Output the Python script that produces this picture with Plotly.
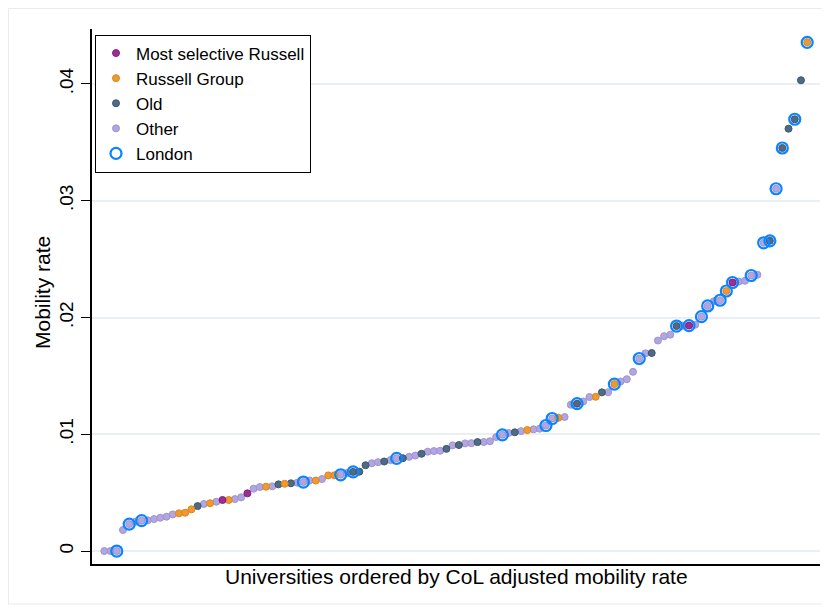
import plotly.graph_objects as go

# CoL adjusted mobility rate, universities in rank order
mobility = [
    0.00000, 0.00000, 0.00000, 0.00180, 0.00231, 0.00251, 0.00260, 0.00263, 0.00274, 0.00285,
    0.00294, 0.00314, 0.00323, 0.00328, 0.00357, 0.00385, 0.00403, 0.00409, 0.00422, 0.00437,
    0.00437, 0.00445, 0.00460, 0.00494, 0.00534, 0.00548, 0.00551, 0.00554, 0.00571, 0.00576,
    0.00580, 0.00585, 0.00591, 0.00604, 0.00604, 0.00617, 0.00648, 0.00649, 0.00653, 0.00668,
    0.00678, 0.00680, 0.00735, 0.00752, 0.00761, 0.00767, 0.00779, 0.00794, 0.00795, 0.00807,
    0.00818, 0.00833, 0.00851, 0.00856, 0.00859, 0.00875, 0.00905, 0.00908, 0.00922, 0.00924,
    0.00933, 0.00934, 0.00940, 0.00976, 0.00995, 0.01011, 0.01017, 0.01027, 0.01036, 0.01042,
    0.01048, 0.01075, 0.01135, 0.01141, 0.01148, 0.01253, 0.01262, 0.01281, 0.01319, 0.01321,
    0.01359, 0.01360, 0.01430, 0.01452, 0.01472, 0.01535, 0.01649, 0.01693, 0.01696, 0.01803,
    0.01840, 0.01853, 0.01927, 0.01930, 0.01931, 0.01938, 0.02007, 0.02099, 0.02139, 0.02148,
    0.02227, 0.02300, 0.02308, 0.02315, 0.02360, 0.02366, 0.02640, 0.02657, 0.03103, 0.03452,
    0.03617, 0.03698, 0.04032, 0.04357,
]

# M = Most selective Russell, R = Russell Group, O = Old, P = Other
group = [
    "P", "P", "P", "P", "P", "P", "P", "P", "P", "P",
    "P", "P", "R", "R", "R", "O", "P", "R", "P", "M",
    "R", "P", "P", "M", "P", "P", "R", "P", "O", "R",
    "O", "P", "P", "P", "R", "P", "R", "R", "P", "P",
    "O", "O", "O", "P", "P", "O", "P", "P", "O", "P",
    "P", "O", "P", "P", "P", "O", "P", "O", "P", "P",
    "O", "P", "P", "P", "P", "P", "O", "P", "R", "P",
    "P", "P", "P", "R", "P", "P", "O", "P", "P", "R",
    "O", "P", "R", "P", "P", "P", "P", "P", "O", "P",
    "P", "P", "O", "P", "M", "P", "P", "P", "P", "P",
    "R", "M", "P", "P", "P", "P", "P", "O", "P", "O",
    "O", "O", "O", "R",
]

# 1 = London university
london = [
    0, 0, 1, 0, 1, 0, 1, 0, 0, 0,
    0, 0, 0, 0, 0, 0, 0, 0, 0, 0,
    0, 0, 0, 0, 0, 0, 0, 0, 0, 0,
    0, 0, 1, 0, 0, 0, 0, 0, 1, 0,
    1, 0, 0, 0, 0, 0, 0, 1, 0, 0,
    0, 0, 0, 0, 0, 0, 0, 0, 0, 0,
    0, 0, 0, 0, 1, 0, 0, 0, 0, 0,
    0, 1, 1, 0, 0, 0, 1, 0, 0, 0,
    0, 0, 1, 0, 0, 0, 1, 0, 0, 0,
    0, 0, 1, 0, 1, 0, 1, 1, 0, 1,
    1, 1, 0, 0, 1, 0, 1, 1, 1, 1,
    0, 1, 0, 1,
]

rank = list(range(1, len(mobility) + 1))

group_names = {"M": "Most selective Russell", "R": "Russell Group", "O": "Old", "P": "Other"}
group_order = ["M", "R", "O", "P"]

y_tick_vals = [0, 0.01, 0.02, 0.03, 0.04]
y_tick_text = ["0", ".01", ".02", ".03", ".04"]

fill = {"M": "#9b2d93", "R": "#f0992f", "O": "#4e6b86", "P": "#b1a7de"}
edge = {"M": "#84207d", "R": "#de8420", "O": "#3d566e", "P": "#9f93d4"}
LONDON_BLUE = "#0b84ff"
FONT = "Liberation Sans, Arial, sans-serif"

fig = go.Figure()

# draw Other first so coloured groups sit above
for g in ["P", "O", "R", "M"]:
    xs = [r for r, gg in zip(rank, group) if gg == g]
    ys = [v for v, gg in zip(mobility, group) if gg == g]
    fig.add_trace(go.Scatter(
        x=xs, y=ys, mode="markers", name=group_names[g],
        legendrank=group_order.index(g) + 1,
        marker=dict(size=7, color=fill[g], line=dict(color=edge[g], width=1)),
        hoverinfo="skip",
    ))

xs = [r for r, l in zip(rank, london) if l]
ys = [v for v, l in zip(mobility, london) if l]
fig.add_trace(go.Scatter(
    x=xs, y=ys, mode="markers", name="London", legendrank=5,
    marker=dict(symbol="circle-open", size=11, color=LONDON_BLUE, line=dict(color=LONDON_BLUE, width=2.2)),
    hoverinfo="skip",
))

# page body adds an 8px offset; the figure is sized to compensate
OFF = 8
W, H = 822, 600
L, T = 92 - OFF, 29 - OFF
R = W - (820 - OFF)
B = H - (564 - OFF)
pw, ph = W - L - R, H - T - B


def px_x(p):
    """reference-screen x pixel -> paper coordinate"""
    return (p - OFF - L) / pw


def px_y(p):
    """reference-screen y pixel -> paper coordinate"""
    return 1 - (p - OFF - T) / ph


fig.update_layout(
    width=W, height=H,
    margin=dict(l=L, r=R, t=T, b=B, pad=0),
    paper_bgcolor="white", plot_bgcolor="white",
    font=dict(family=FONT, color="black", size=17),
    showlegend=True,
    legend=dict(
        x=px_x(95), y=px_y(34.5), xanchor="left", yanchor="top",
        bordercolor="black", borderwidth=1, bgcolor="white",
        font=dict(size=17, family=FONT, color="black"),
        tracegroupgap=0, itemwidth=30,
    ),
    xaxis=dict(
        range=[-0.98, 116.06], showgrid=False, zeroline=False,
        showticklabels=False, ticks="",
        showline=True, linecolor="black", linewidth=1.5,
    ),
    yaxis=dict(
        range=[-0.00111, 0.04471],
        tickvals=y_tick_vals, ticktext=y_tick_text,
        tickangle=-90, ticks="outside", ticklen=9, tickwidth=1.3, tickcolor="black",
        tickfont=dict(size=19, family=FONT, color="black"),
        showgrid=True, gridcolor="#e9eff3", gridwidth=1.5,
        zeroline=False,
        showline=True, linecolor="black", linewidth=1.5,
        ticklabelstandoff=1,
    ),
    annotations=[
        dict(text="Mobility rate", xref="paper", yref="paper",
             x=px_x(42), y=px_y(292), xanchor="center", yanchor="middle",
             textangle=-90, showarrow=False, font=dict(size=21, family=FONT, color="black")),
        dict(text="Universities ordered by CoL adjusted mobility rate", xref="paper", yref="paper",
             x=px_x(456), y=px_y(576), xanchor="center", yanchor="middle",
             showarrow=False, font=dict(size=21, family=FONT, color="black")),
    ],
    shapes=[
        dict(type="rect", xref="paper", yref="paper",
             x0=px_x(8.5), x1=px_x(827.5), y0=px_y(604), y1=px_y(8.5),
             line=dict(color="#ebebeb", width=1), fillcolor="rgba(0,0,0,0)", layer="below"),
    ],
)

fig.write_html("out.html")
